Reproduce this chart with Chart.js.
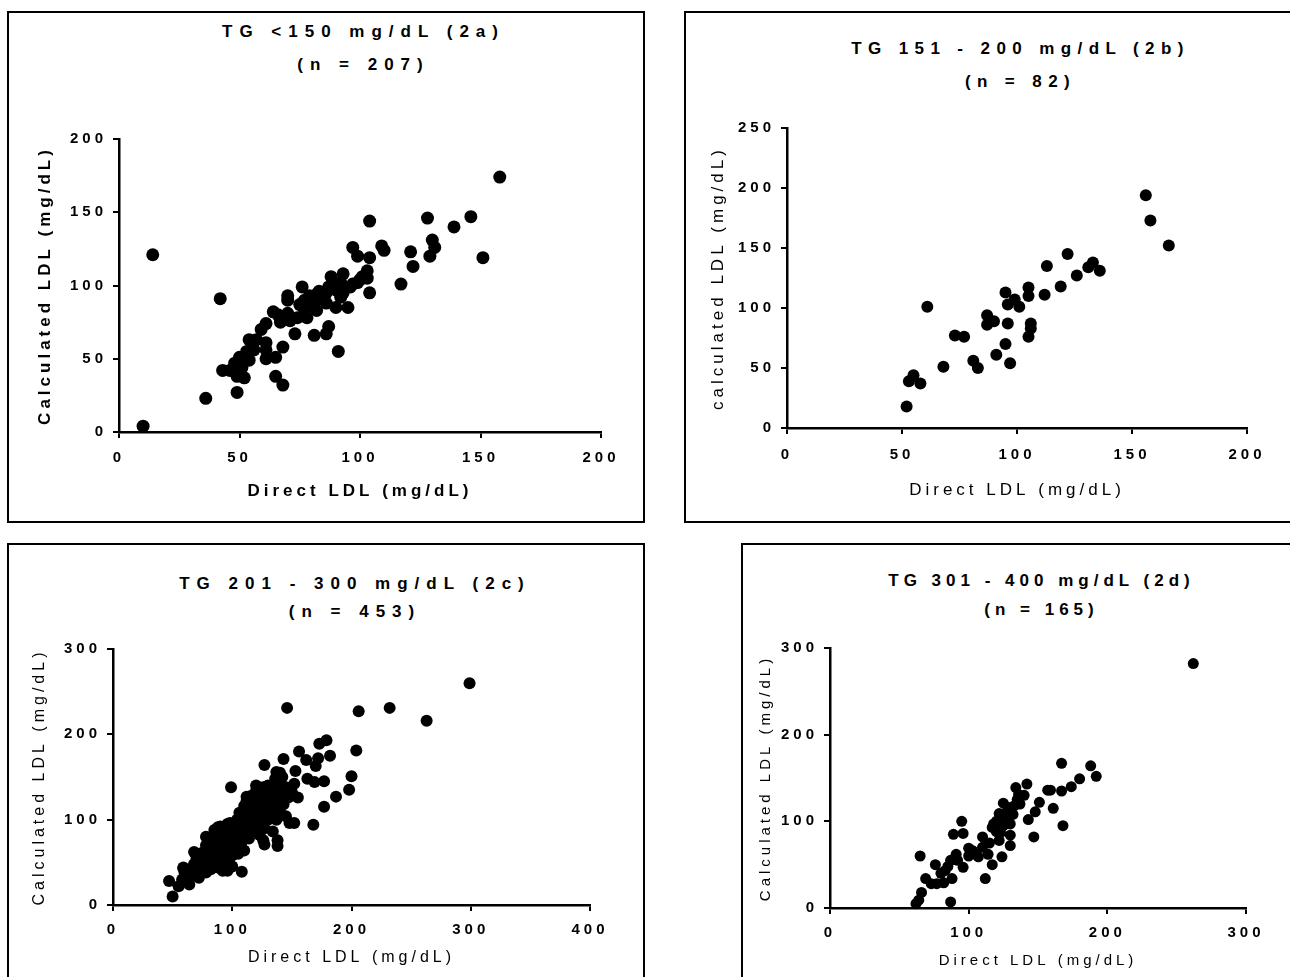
<!DOCTYPE html>
<html>
<head>
<meta charset="utf-8">
<title>Direct vs calculated LDL</title>
<script src="https://cdn.jsdelivr.net/npm/chart.js@4.4.1/dist/chart.umd.min.js"></script>
<style>
  html, body { margin: 0; padding: 0; background: #fff; }
  body { position: relative; width: 1290px; height: 977px; overflow: hidden; }
  .panel { position: absolute; border: 2px solid #000; }
  .panel canvas { position: absolute; left: 0; top: 0; }
  .title {
    position: absolute;
    text-align: center;
    font: bold 17px "Liberation Sans", Arial, sans-serif;
    letter-spacing: 7px;
    padding-left: 3.5px;
    color: #000;
    white-space: nowrap;
  }
</style>
</head>
<body>

<div class="panel" style="left:7px;top:11px;width:634px;height:508px">
  <div class="title" id="t2a">TG &lt;150 mg/dL (2a)<br>(n = 207)</div>
  <canvas id="c2a" width="634" height="508"></canvas>
</div>

<div class="panel" style="left:684px;top:11px;width:616px;height:508px">
  <div class="title" id="t2b" style="letter-spacing:6.4px">TG 151 - 200 mg/dL (2b)<br>(n = 82)</div>
  <canvas id="c2b" width="616" height="508"></canvas>
</div>

<div class="panel" style="left:7px;top:543px;width:634px;height:446px">
  <div class="title" id="t2c">TG 201 - 300 mg/dL (2c)<br>(n = 453)</div>
  <canvas id="c2c" width="634" height="446"></canvas>
</div>

<div class="panel" style="left:741px;top:543px;width:556px;height:446px">
  <div class="title" id="t2d" style="letter-spacing:5px">TG 301 - 400 mg/dL (2d)<br>(n = 165)</div>
  <canvas id="c2d" width="556" height="446"></canvas>
</div>

<script>
// [direct LDL, calculated LDL] pairs
const points2a = [
  [158, 174], [14, 121], [10, 4], [42, 91], [36, 23], [49, 27], [65, 38], [68, 32], [91, 55],
  [104, 144], [128, 146], [146, 147], [139, 140], [151, 119], [130, 131], [131, 126], [129, 120],
  [121, 123], [122, 113], [117, 101], [109, 127], [110, 124], [97, 126], [99, 120], [104, 119],
  [103, 110], [104, 95], [101, 106], [99, 102], [93, 108], [88, 106], [95, 85], [92, 92], [90, 85],
  [87, 72], [86, 67], [81, 66], [76, 99], [70, 93], [70, 90], [73, 67], [82, 94], [83, 91], [79, 87],
  [77, 83], [74, 78], [70, 81], [66, 80], [64, 82], [61, 74], [59, 70], [67, 75], [71, 76], [78, 78],
  [82, 83], [86, 88], [90, 97], [96, 99], [92, 102], [54, 63], [57, 63], [61, 61], [61, 56], [65, 51],
  [68, 58], [61, 50], [56, 56], [53, 55], [50, 51], [54, 49], [48, 47], [43, 42], [46, 42], [50, 42],
  [49, 38], [52, 37], [51, 44], [79, 93], [83, 96], [81, 90], [85, 91], [78, 86], [75, 87], [87, 99],
  [89, 99], [93, 95], [97, 101], [100, 104], [103, 105], [80, 89], [84, 93], [77, 90], [86, 95]
];

const points2b = [
  [156, 194], [158, 173], [166, 152], [122, 145], [113, 135], [133, 138], [131, 134], [136, 131],
  [126, 127], [119, 118], [112, 111], [105, 117], [105, 110], [95, 113], [99, 107], [96, 103],
  [101, 101], [61, 101], [87, 94], [90, 89], [87, 86], [96, 87], [106, 87], [106, 83], [105, 76],
  [73, 77], [77, 76], [95, 70], [91, 61], [81, 56], [83, 50], [97, 54], [68, 51], [55, 44], [53, 39],
  [58, 37], [52, 18]
];

const points2c = [
  [299, 260], [146, 231], [206, 227], [232, 231], [263, 216], [204, 181], [173, 189], [179, 193],
  [182, 175], [156, 180], [162, 170], [172, 172], [170, 163], [143, 171], [127, 164], [200, 151],
  [198, 135], [187, 127], [177, 115], [168, 94], [152, 96], [99, 138], [163, 148], [177, 145],
  [169, 144], [153, 157], [140, 155], [126, 76], [138, 76], [138, 69], [127, 71], [108, 39], [96, 40],
  [47, 28], [50, 10], [59, 44], [64, 24],
  [55, 22], [58, 30], [60, 38], [62, 28], [65, 42], [66, 34], [68, 48], [70, 40], [70, 55], [72, 32],
  [73, 60], [75, 45], [75, 52], [76, 62], [78, 38], [78, 70], [80, 48], [80, 56], [80, 78], [82, 42],
  [82, 64], [83, 72], [85, 50], [85, 58], [85, 88], [86, 80], [88, 44], [88, 66], [88, 74], [90, 52],
  [90, 60], [90, 84], [90, 92], [92, 40], [92, 70], [93, 78], [95, 48], [95, 56], [95, 64], [95, 88],
  [96, 95], [97, 72], [98, 82], [100, 45], [100, 58], [100, 66], [100, 76], [100, 92], [102, 86],
  [103, 70], [104, 100], [105, 60], [105, 80], [106, 108], [108, 74], [108, 92], [110, 64], [110, 84],
  [110, 100], [110, 116], [112, 90], [112, 122], [113, 106], [114, 78], [115, 96], [115, 112],
  [116, 128], [117, 86], [118, 118], [118, 102], [120, 92], [120, 108], [120, 124], [120, 134],
  [122, 98], [122, 114], [123, 82], [124, 128], [125, 104], [125, 120], [126, 138], [127, 90],
  [128, 112], [128, 130], [130, 100], [130, 118], [130, 140], [132, 108], [132, 126], [134, 86],
  [134, 134], [135, 116], [136, 148], [137, 100], [138, 124], [138, 140], [140, 110], [140, 130],
  [142, 150], [143, 118], [145, 104], [145, 138], [147, 126], [148, 96], [150, 132], [152, 142],
  [155, 126], [59, 43], [68, 62], [78, 80], [88, 91], [98, 96], [112, 127], [120, 140], [137, 156]
];

const points2d = [
  [262, 282], [167, 167], [188, 164], [192, 152], [180, 149], [174, 140], [167, 135], [159, 136],
  [157, 136], [161, 115], [168, 95], [151, 122], [148, 111], [143, 102], [147, 82], [142, 143],
  [134, 139], [140, 130], [137, 120], [125, 121], [129, 116], [132, 108], [122, 109], [130, 97],
  [118, 97], [123, 87], [130, 84], [130, 72], [124, 59], [117, 50], [112, 34], [110, 82], [110, 70],
  [105, 62], [100, 69], [95, 100], [96, 86], [89, 85], [91, 62], [87, 55], [96, 47], [83, 43],
  [88, 34], [76, 50], [65, 60], [69, 34], [77, 28], [82, 29], [73, 28], [66, 18], [64, 9], [62, 5],
  [87, 7], [117, 93], [126, 108], [122, 78], [107, 59], [114, 62], [136, 131], [120, 100], [125, 95],
  [128, 112], [133, 118], [120, 88], [115, 75], [92, 55], [85, 48], [80, 40], [100, 60], [103, 66],
  [127, 102], [135, 125]
];

// tick values on each axis
const xTicks2a = [0, 50, 100, 150, 200];
const yTicks2a = [0, 50, 100, 150, 200];
const xTicks2b = [0, 50, 100, 150, 200];
const yTicks2b = [0, 50, 100, 150, 200, 250];
const xTicks2c = [0, 100, 200, 300, 400];
const yTicks2c = [0, 100, 200, 300];
const xTicks2d = [0, 100, 200, 300];
const yTicks2d = [0, 100, 200, 300];

const FONT = '"Liberation Sans", Arial, sans-serif';
Chart.defaults.font.family = FONT;
Chart.defaults.color = "#000";

// the original figure uses widely spaced letters
const letterSpacing = {
  id: "letterSpacing",
  beforeLayout(chart) { chart.ctx.letterSpacing = "4px"; },
  beforeDraw(chart) { chart.ctx.letterSpacing = "4px"; },
};

function axis(ticks, title, o, horizontal) {
  return {
    type: "linear",
    min: ticks[0],
    max: ticks[ticks.length - 1],
    afterBuildTicks: (s) => { s.ticks = ticks.map((v) => ({ value: v })); },
    afterFit: (s) => {
      if (horizontal) s.height = o.xH;
      else s.width = o.yW;
    },
    grid: { drawOnChartArea: false, drawTicks: true, tickLength: 6, color: "#000", lineWidth: 2 },
    border: { color: "#000", width: 2.5 },
    ticks: {
      color: "#000",
      font: { size: 15, weight: "bold" },
      padding: horizontal ? o.tickPadX : 6,
      maxRotation: 0,
    },
    title: {
      display: true,
      text: title,
      color: "#000",
      font: { size: o.titleSize, weight: o.boldTitles ? "bold" : "normal" },
      padding: horizontal ? { top: 0, bottom: o.xTitlePad } : { top: o.yTitlePad, bottom: 0 },
    },
  };
}

function scatterPanel(id, points, xTicks, yTicks, xTitle, yTitle, o) {
  const canvas = document.getElementById("c" + id);
  const chart = new Chart(canvas, {
    type: "scatter",
    data: {
      datasets: [
        {
          data: points.map((p) => ({ x: p[0], y: p[1] })),
          backgroundColor: "#000",
          borderWidth: 0,
          pointRadius: o.radius,
          pointHoverRadius: o.radius,
          clip: false,
        },
      ],
    },
    options: {
      responsive: false,
      animation: false,
      events: [],
      layout: { padding: { top: o.top, right: canvas.width - o.right, bottom: 0, left: 0 } },
      plugins: { legend: { display: false }, tooltip: { enabled: false } },
      scales: {
        x: axis(xTicks, xTitle, o, true),
        y: axis(yTicks, yTitle, o, false),
      },
    },
    plugins: [letterSpacing],
  });

  // heading centred over the plot area, like the original
  const t = document.getElementById("t" + id);
  const ca = chart.chartArea;
  t.style.left = ca.left + "px";
  t.style.width = ca.right - ca.left + "px";
  t.style.top = o.headTop + "px";
  t.style.lineHeight = o.headLh + "px";
  return chart;
}

scatterPanel("2a", points2a, xTicks2a, yTicks2a, "Direct LDL (mg/dL)", "Calculated LDL (mg/dL)", {
  top: 126, right: 592, yW: 110, xH: 89, radius: 6.5,
  tickPadX: 11, xTitlePad: 19.8, yTitlePad: 25.8, titleSize: 17, boldTitles: true,
  headTop: 2, headLh: 33,
});

scatterPanel("2b", points2b, xTicks2b, yTicks2b, "Direct LDL (mg/dL)", "calculated LDL (mg/dL)", {
  top: 115, right: 561, yW: 101, xH: 93, radius: 6,
  tickPadX: 12, xTitlePad: 20.8, yTitlePad: 21.8, titleSize: 17, boldTitles: false,
  headTop: 18.5, headLh: 33,
});

scatterPanel("2c", points2c, xTicks2c, yTicks2c, "Direct LDL (mg/dL)", "Calculated LDL (mg/dL)", {
  top: 104, right: 581, yW: 104, xH: 86, radius: 6,
  tickPadX: 9.5, xTitlePad: 23.4, yTitlePad: 21.4, titleSize: 16, boldTitles: false,
  headTop: 25, headLh: 28,
});

scatterPanel("2d", points2d, xTicks2d, yTicks2d, "Direct LDL (mg/dL)", "Calculated LDL (mg/dL)", {
  top: 103, right: 503, yW: 87, xH: 83, radius: 5.5,
  tickPadX: 9.5, xTitlePad: 21, yTitlePad: 14, titleSize: 15, boldTitles: false,
  headTop: 20.5, headLh: 29,
});
</script>
</body>
</html>
